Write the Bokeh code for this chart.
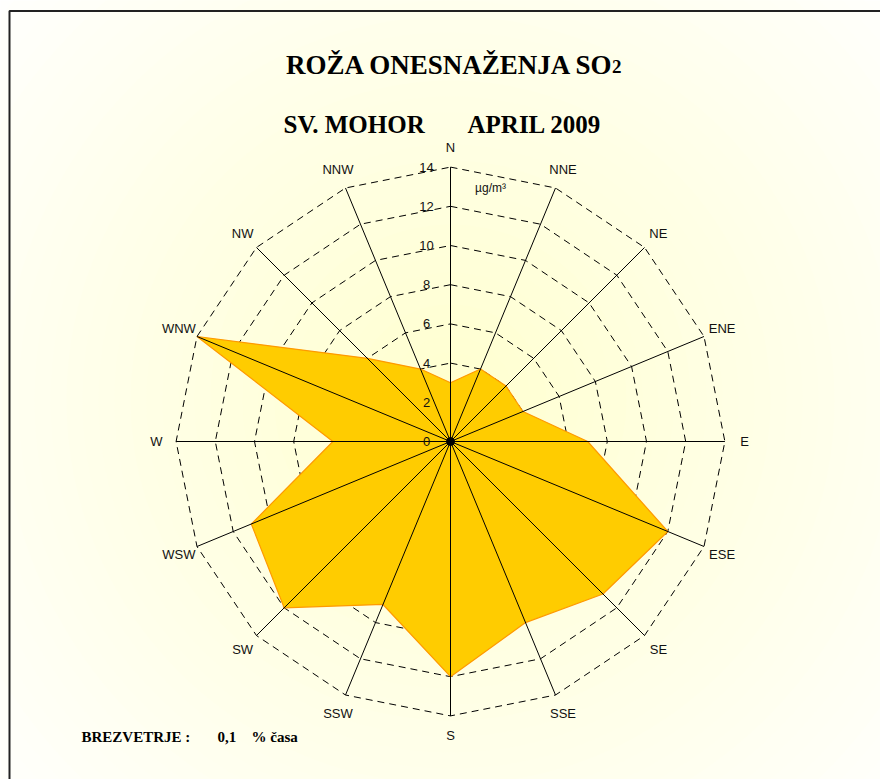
import numpy as np
from bokeh.plotting import figure
from bokeh.models import Range1d
from bokeh.core.properties import value
from bokeh.embed import file_html
from bokeh.resources import INLINE

# ---- data ----
directions = ["N", "NNE", "NE", "ENE", "E", "ESE", "SE", "SSE",
              "S", "SSW", "SW", "WSW", "W", "WNW", "NW", "NNW"]
so2_values = [3, 4, 4, 4, 7, 12, 11, 10, 12, 9, 12, 11, 6, 14, 6, 4]
ring_ticks = [0, 2, 4, 6, 8, 10, 12, 14]
r_max = 14

title_main = "ROŽA ONESNAŽENJA SO"
title_sub = "2"
station = "SV. MOHOR"
period = "APRIL 2009"
unit_label = "µg/m³"
calm_label = "BREZVETRJE :"
calm_value = "0,1"
calm_unit = "% časa"

# ---- layout helpers ----
S = 19.6            # pixels per unit
CX, CY = 450, 441   # screen coords of rose centre
OX, OY = 0, 0       # screen offset of figure
FIG_W, FIG_H = 880, 779

def px(x):
    return (x - CX) / S

def py(y):
    return (CY - y) / S

p = figure(width=FIG_W, height=FIG_H,
           x_range=Range1d(px(OX), px(OX + FIG_W)),
           y_range=Range1d(py(OY + FIG_H), py(OY)),
           x_axis_type=None, y_axis_type=None,
           toolbar_location=None, output_backend="svg",
           min_border=0, outline_line_color=None,
           background_fill_color="white", border_fill_color="white")
p.grid.visible = False

# background radial gradient
n = 40
rmax_bg = 640 / S
radii = [rmax_bg * (1 - i / n) for i in range(n)]
cols = []
for r in radii:
    t = r / rmax_bg
    b = int(round(206 + 49 * t))
    cols.append("#%02x%02x%02x" % (255, 255, min(255, b)))
p.circle(x=[0] * n, y=[py(400)] * n, radius=radii, fill_color=cols, line_color=None)

# frame lines (top and left)
p.line([px(9), px(9), px(FIG_W + 20)], [py(FIG_H + 20), py(10.5), py(10.5)],
       line_color="#222222", line_width=2)

theta = np.deg2rad(np.arange(len(directions)) * 360.0 / len(directions))
sx, sy = np.sin(theta), np.cos(theta)

# dashed rings
ring_xs, ring_ys = [], []
for t in ring_ticks[1:]:
    ring_xs.append(list(np.append(t * sx, t * sx[0])))
    ring_ys.append(list(np.append(t * sy, t * sy[0])))
p.multi_line(ring_xs, ring_ys, line_color="black", line_width=1, line_dash="7 5")

# data polygon
vals = np.array(so2_values, dtype=float)
p.patch(list(vals * sx), list(vals * sy), fill_color="#FFCC00",
        line_color="#FF9900", line_width=1.2)

# spokes
p.segment(x0=[0] * len(directions), y0=[0] * len(directions),
          x1=list(r_max * sx), y1=list(r_max * sy), line_color="black", line_width=1)
p.scatter([0], [0], size=8, color="black")

# tick labels
p.text(x=[px(426)] * len(ring_ticks), y=ring_ticks, text=[str(t) for t in ring_ticks],
       text_font=value("Liberation Sans"), text_font_size="13px",
       text_align="center", text_baseline="middle", text_color="#111111")

# direction labels
lab_r = 15.0
p.text(x=list(lab_r * sx), y=list(lab_r * sy), text=directions,
       text_font=value("Liberation Sans"), text_font_size="13px",
       text_align="center", text_baseline="middle", text_color="#111111")

# unit label
p.text(x=[px(490)], y=[py(187)], text=[unit_label],
       text_font=value("Liberation Sans"), text_font_size="12px",
       text_align="center", text_baseline="middle", text_color="#111111")

# titles
serif = value("Liberation Serif")
p.text(x=[px(614)], y=[py(64)], text=[title_main], text_font=serif,
       text_font_size="27px", text_font_style="bold", text_align="right",
       text_baseline="alphabetic", text_color="black")
p.text(x=[px(611.5)], y=[py(66)], text=[title_sub], text_font=serif,
       text_font_size="19px", text_font_style="bold", text_align="left",
       text_baseline="alphabetic", text_color="black")
p.text(x=[px(283), px(467)], y=[py(124), py(124)], text=[station, period], text_font=serif,
       text_font_size="25px", text_font_style="bold", text_align="left",
       text_baseline="alphabetic", text_color="black")
p.text(x=[px(81), px(217), px(251)], y=[py(736)] * 3,
       text=[calm_label, calm_value, calm_unit], text_font=serif,
       text_font_size="15px", text_font_style="bold", text_align="left",
       text_baseline="alphabetic", text_color="black")

open("out.html", "w").write(file_html(p, INLINE))
